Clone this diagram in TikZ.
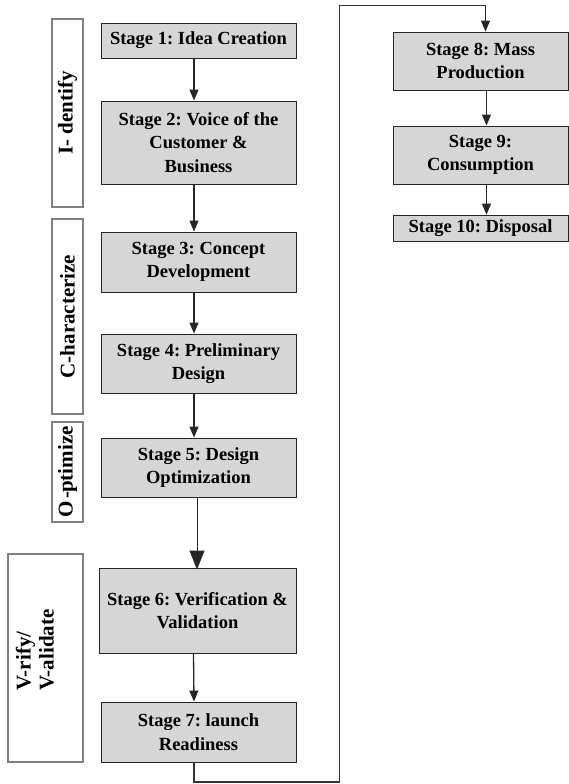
\documentclass[tikz,border=0pt]{standalone}
\usepackage{fontspec}
\setmainfont{Liberation Serif}
\frenchspacing
\usetikzlibrary{arrows.meta}
\begin{document}
\begin{tikzpicture}[x=1pt,y=-1pt,
  stagebox/.style={draw=black!85,line width=0.9pt,fill=black!16,rectangle,align=center,inner sep=0pt,
     font=\fontsize{18.5}{23.5}\selectfont\bfseries},
  phasebox/.style={draw=black!50,line width=1.3pt,rectangle,inner sep=0pt},
  phasetext/.style={rotate=90,font=\fontsize{21}{23}\selectfont\bfseries,inner sep=0pt},
  conn/.style={draw=black!85,line width=1.3pt,-{Triangle[width=9pt,length=11pt]}},
  bigconn/.style={draw=black!85,line width=1pt,-{Triangle[width=15pt,length=19pt]}},
  loopline/.style={draw=black!80,line width=1.2pt}]
\useasboundingbox (0,0) rectangle (568,784);
% stages
\node[stagebox,minimum width=195pt,minimum height=35pt] (s1) at (198.5,40.5) {Stage 1: Idea Creation};
\node[stagebox,minimum width=195pt,minimum height=83pt] (s2) at (198.5,142.5) {Stage 2: Voice of the\\Customer \&\\Business};
\node[stagebox,minimum width=195pt,minimum height=60pt] (s3) at (198.5,262) {Stage 3: Concept\\Development};
\node[stagebox,minimum width=195pt,minimum height=59pt] (s4) at (198.5,363.5) {Stage 4: Preliminary\\Design};
\node[stagebox,minimum width=195pt,minimum height=59pt] (s5) at (198.5,467.5) {Stage 5: Design\\Optimization};
\node[stagebox,minimum width=197pt,minimum height=85pt] (s6) at (197.5,610.5) {Stage 6: Verification \&\\Validation};
\node[stagebox,minimum width=195pt,minimum height=60pt] (s7) at (198.5,732) {Stage 7: launch\\Readiness};
\node[stagebox,minimum width=175pt,minimum height=58pt] (s8) at (480.5,61) {Stage 8: Mass\\Production};
\node[stagebox,minimum width=175pt,minimum height=58pt] (s9) at (480.5,155) {Stage 9:\\Consumption};
\node[stagebox,minimum width=175pt,minimum height=26pt] (s10) at (480.5,228) {Stage 10: Disposal};
% phase boxes
\node[phasebox,minimum width=31pt,minimum height=188pt] (p1) at (67.5,113) {};
\node[phasetext] (t1) at (p1.center) {I- dentify};
\node[phasebox,minimum width=31pt,minimum height=195pt] (p2) at (67.5,316.5) {};
\node[phasetext] (t2) at (p2.center) {C-haracterize};
\node[phasebox,minimum width=31pt,minimum height=100pt] (p3) at (67.5,472) {};
\node[phasetext] (t3) at (p3.center) {O\kern3pt-\kern-1.5pt ptimize};
\node[phasebox,minimum width=75pt,minimum height=208pt] (p4) at (45.5,658) {};
\node[phasetext,align=left] (t4) at (35,650) {V-rify/\\V-alidate};
% connectors
\draw[conn] ([xshift=-4.5pt]s1.south) -- ([xshift=-4.5pt]s2.north);
\draw[conn] ([xshift=-4.5pt]s2.south) -- ([xshift=-4.5pt]s3.north);
\draw[conn] ([xshift=-4.5pt]s3.south) -- ([xshift=-4.5pt]s4.north);
\draw[conn] ([xshift=-4.5pt]s4.south) -- ([xshift=-4.5pt]s5.north);
\draw[bigconn] ([xshift=-1.5pt]s5.south) -- ([xshift=-0.5pt,yshift=-2pt]s6.north);
\draw[conn] ([xshift=-4pt]s6.south) -- ([xshift=-4.5pt]s7.north);
\coordinate (c1) at (194,782);
\coordinate (c2) at (339.5,782);
\coordinate (c3) at (339.5,5.5);
\coordinate (c4) at (485.5,5.5);
\draw[loopline] ([xshift=-4.5pt]s7.south) -- (c1) -- (c2) -- (c3) -- (c4);
\draw[conn] (c4) -- ([xshift=5pt]s8.north);
\draw[conn] ([xshift=6pt]s8.south) -- ([xshift=6pt]s9.north);
\draw[conn] ([xshift=6pt]s9.south) -- ([xshift=6pt]s10.north);
\end{tikzpicture}
\end{document}
